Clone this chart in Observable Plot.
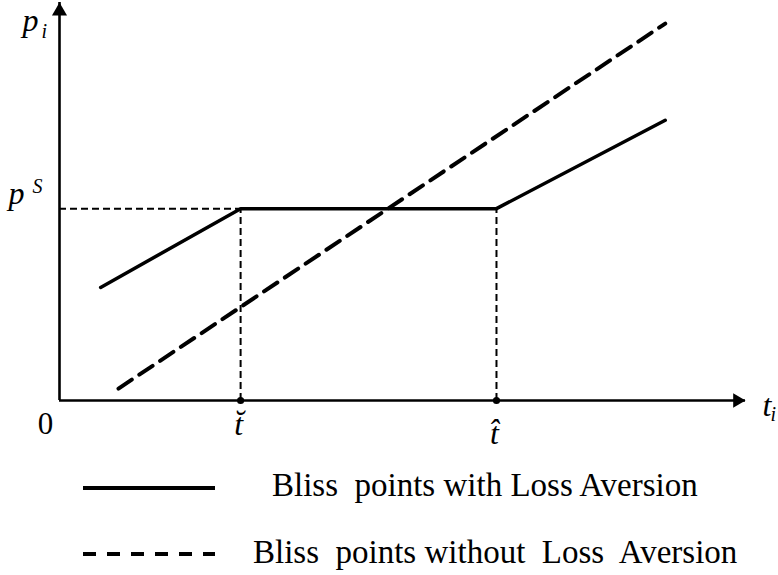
<!DOCTYPE html>
<html>
<head>
<meta charset="utf-8">
<script src="https://cdn.jsdelivr.net/npm/d3@7"></script>
<script src="https://cdn.jsdelivr.net/npm/@observablehq/plot@0.6"></script>
<style>
  html, body { margin: 0; padding: 0; background: #fff; }
  #chart svg { display: block; }
  #legend { display: block; }
  svg text { font-family: 'Liberation Serif', 'DejaVu Serif', serif !important; }
</style>
</head>
<body>
<div id="chart"></div>
<svg id="legend" width="778" height="115"></svg>
<script>
// ---- data (abstract units) ----
const tBreve = 2.64;   // t-breve
const tHat = 6.37;     // t-hat
const pS = 4.82;       // p^S
const withLA = [
  {t: 0.60, p: 2.84},
  {t: tBreve, p: pS},
  {t: tHat, p: pS},
  {t: 8.83, p: 7.04}
];
const withoutLA = [
  {t: 0.86, p: 0.30},
  {t: 8.83, p: 9.47}
];
const tickMarks = [tBreve, tHat];
const tickLabels = ["t\u0306", "t\u0302"];
const legendLabels = ["Bliss  points with Loss Aversion", "Bliss  points without  Loss  Aversion"];

const serif = "'Liberation Serif', 'DejaVu Serif', serif";

const chart = Plot.plot({
  width: 778,
  height: 460,
  marginLeft: 59,
  marginRight: 33,
  marginTop: 2,
  marginBottom: 60,
  x: {domain: [0, 10], axis: null},
  y: {domain: [0, 10], axis: null},
  style: {fontFamily: serif, background: "white", overflow: "visible"},
  marks: [
    // reference dashed lines
    Plot.ruleY([pS], {x1: 0, x2: tBreve, stroke: "black", strokeWidth: 2, strokeDasharray: "7,4"}),
    Plot.ruleX(tickMarks, {y1: 0, y2: pS, stroke: "black", strokeWidth: 2, strokeDasharray: "7,4"}),
    // axes
    Plot.ruleX([0], {stroke: "black", strokeWidth: 2.6}),
    Plot.ruleY([0], {stroke: "black", strokeWidth: 2.6}),
    Plot.dot([0], {x: 0, y: 10, symbol: "triangle", r: 5.6, fill: "black", stroke: null, dy: 8.7}),
    Plot.dot([0], {x: 10, y: 0, symbol: "triangle", r: 5.3, fill: "black", stroke: null, rotate: 90, dx: -8.2}),
    // series
    Plot.line(withoutLA, {x: "t", y: "p", stroke: "black", strokeWidth: 4, strokeDasharray: "16,9"}),
    Plot.line(withLA, {x: "t", y: "p", stroke: "black", strokeWidth: 3.5, strokeLinejoin: "miter"}),
    Plot.dot(tickMarks, {x: d => d, y: 0, r: 3.6, fill: "black", stroke: null}),
    // y-axis label p_i
    Plot.text(["p"], {x: 0, y: 10, text: d => d, dx: -37, dy: 28, textAnchor: "start", lineAnchor: "bottom", fontSize: 32, fontStyle: "italic", fontFamily: serif}),
    Plot.text(["i"], {x: 0, y: 10, text: d => d, dx: -18, dy: 35, textAnchor: "start", lineAnchor: "bottom", fontSize: 20, fontStyle: "italic", fontFamily: serif}),
    // p^S
    Plot.text(["p"], {x: 0, y: pS, text: d => d, dx: -51, dy: -5, textAnchor: "start", lineAnchor: "bottom", fontSize: 32, fontStyle: "italic", fontFamily: serif}),
    Plot.text(["S"], {x: 0, y: pS, text: d => d, dx: -27, dy: -16, textAnchor: "start", lineAnchor: "bottom", fontSize: 20, fontStyle: "italic", fontFamily: serif}),
    // origin 0
    Plot.text(["0"], {x: 0, y: 0, text: d => d, dx: -14, dy: 33, textAnchor: "middle", lineAnchor: "bottom", fontSize: 31, fontFamily: serif}),
    // t-breve and t-hat
    Plot.text([0], {x: tickMarks[0], y: 0, text: [tickLabels[0]], dx: -2, dy: 34, textAnchor: "middle", lineAnchor: "bottom", fontSize: 32, fontStyle: "italic", fontFamily: serif}),
    Plot.text([0], {x: tickMarks[1], y: 0, text: [tickLabels[1]], dx: -2, dy: 43, textAnchor: "middle", lineAnchor: "bottom", fontSize: 32, fontStyle: "italic", fontFamily: serif}),
    // x-axis label t_i
    Plot.text(["t"], {x: 10, y: 0, text: d => d, dx: 17, dy: 15, textAnchor: "start", lineAnchor: "bottom", fontSize: 32, fontStyle: "italic", fontFamily: serif}),
    Plot.text(["i"], {x: 10, y: 0, text: d => d, dx: 25, dy: 20, textAnchor: "start", lineAnchor: "bottom", fontSize: 20, fontStyle: "italic", fontFamily: serif})
  ]
});
document.getElementById("chart").appendChild(chart);

// ---- legend (below the plot) ----
const lg = d3.select("#legend");
const rows = [
  {label: legendLabels[0], dash: null, lineY: 28, textX: 272, baseY: 36},
  {label: legendLabels[1], dash: "13,11", lineY: 94, textX: 253, baseY: 103}
];
rows.forEach(r => {
  lg.append("line")
    .attr("x1", 83).attr("x2", 215)
    .attr("y1", r.lineY).attr("y2", r.lineY)
    .attr("stroke", "black").attr("stroke-width", 4)
    .attr("stroke-dasharray", r.dash);
  lg.append("text")
    .attr("x", r.textX).attr("y", r.baseY)
    .attr("font-family", serif).attr("font-size", 33)
    .style("white-space", "pre")
    .text(r.label);
});
</script>
</body>
</html>
